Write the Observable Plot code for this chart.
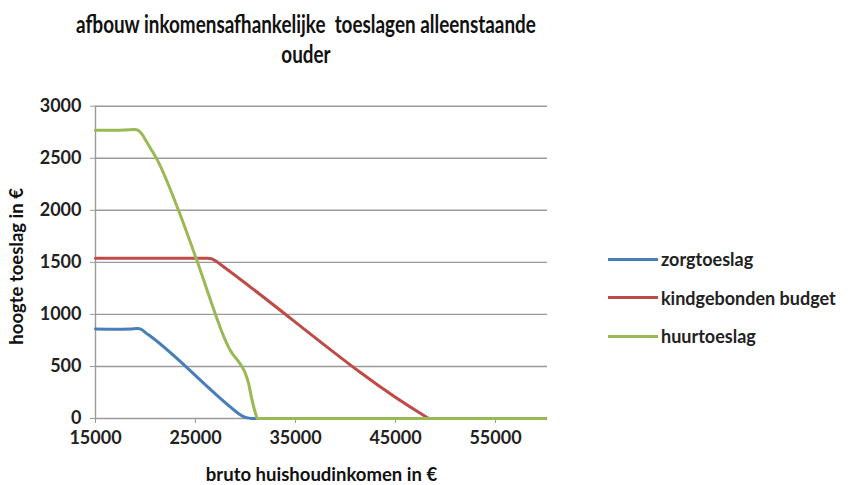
<!DOCTYPE html>
<html>
<head>
<meta charset="utf-8">
<script src="https://cdn.jsdelivr.net/npm/d3@7"></script>
<script src="https://cdn.jsdelivr.net/npm/@observablehq/plot@0.6"></script>
<style>
  html, body { margin: 0; padding: 0; background: #fff; }
  #wrap { position: relative; width: 855px; height: 485px; font-family: Lato, "Open Sans", sans-serif; }
  #title { position: absolute; left: 0; top: 8px; width: 612px; text-align: center; font-weight: bold; font-size: 25px; line-height: 30px; color: #111; white-space: pre; transform: scaleX(0.755); transform-origin: 306px 0; }
  #chart { position: absolute; left: 0; top: 85px; }
  #legend { position: absolute; left: 608px; top: 240px; font-weight: bold; font-size: 18px; color: #222; }
  .item { display: flex; align-items: center; height: 38.5px; }
  .sw { width: 50px; height: 3px; margin-right: 3px; }
</style>
</head>
<body>
<div id="wrap">
  <div id="title">afbouw inkomensafhankelijke  toeslagen alleenstaande
ouder</div>
  <div id="chart"></div>
  <div id="legend"></div>
</div>
<script>
const seriesNames = ["zorgtoeslag", "kindgebonden budget", "huurtoeslag"];
const seriesColors = ["#4a7ebb", "#be4b48", "#98b954"];

const zorgIncome = [15000, 17000, 18500, 19200, 19600, 20000, 20500, 29000, 29400, 29800, 30200, 30600, 31000, 60000];
const zorgValues = [860, 858, 860, 865, 855, 825, 790, 70, 40, 18, 6, 1, 0, 0];

const kindIncome = [15000, 20000, 26200, 26600, 27000, 27500, 48000, 48300, 48700, 60000];
const kindValues = [1540, 1540, 1540, 1535, 1515, 1480, 20, 3, 0, 0];

const huurIncome = [15000, 17000, 18900, 19300, 19700, 20100, 20600, 21200, 23300, 25200, 27000, 27600, 28500, 29500, 30000, 30300, 30600, 31000, 31200, 35000, 60000];
const huurValues = [2770, 2770, 2775, 2765, 2725, 2660, 2580, 2480, 2000, 1500, 1000, 840, 650, 520, 430, 340, 200, 50, 0, 0, 0];

const xTicks = [15000, 25000, 35000, 45000, 55000];
const yTicks = [0, 500, 1000, 1500, 2000, 2500, 3000];

const rows = [];
[[zorgIncome, zorgValues], [kindIncome, kindValues], [huurIncome, huurValues]].forEach(([xs, ys], i) => {
  xs.forEach((x, j) => rows.push({ series: seriesNames[i], income: x, value: ys[j] }));
});

const font = "Lato, 'Open Sans', sans-serif";
const chart = Plot.plot({
  width: 855,
  height: 400,
  marginLeft: 95,
  marginRight: 308,
  marginTop: 20.7,
  marginBottom: 67,
  style: { fontFamily: font, fontSize: "18px", color: "#222", background: "white" },
  x: { domain: [15000, 60200], label: null },
  y: { domain: [0, 3000], label: null },
  color: { domain: seriesNames, range: seriesColors },
  marks: [
    Plot.gridY(yTicks, { stroke: "#9a9a9a", strokeOpacity: 1, strokeWidth: 1.4 }),
    Plot.ruleX([15000], { stroke: "#9a9a9a", strokeWidth: 1.4 }),
    Plot.axisY(yTicks, { tickSize: 5, tickPadding: 9, stroke: "#9a9a9a", fontWeight: "bold", fontSize: 18, fill: "#222", tickFormat: d => String(d) }),
    Plot.axisX(xTicks, { tickSize: 5, tickPadding: 8, stroke: "#9a9a9a", fontWeight: "bold", fontSize: 18, fill: "#222", tickFormat: d => String(d) }),
    Plot.line(rows, { x: "income", y: "value", z: "series", stroke: "series", strokeWidth: 3, curve: "monotone-x" }),
    Plot.text(["bruto huishoudinkomen in €"], { frameAnchor: "bottom", lineAnchor: "middle", dy: 57, fontWeight: "bold", fontSize: 18.5, fill: "#111" }),
    Plot.text(["hoogte toeslag in €"], { frameAnchor: "left", rotate: -90, dx: -78, dy: 4, textAnchor: "middle", fontWeight: "bold", fontSize: 18.5, fill: "#111" })
  ]
});
document.getElementById("chart").appendChild(chart);

const legend = document.getElementById("legend");
seriesNames.forEach((name, i) => {
  const item = document.createElement("div");
  item.className = "item";
  const sw = document.createElement("div");
  sw.className = "sw";
  sw.style.background = seriesColors[i];
  const label = document.createElement("span");
  label.textContent = name;
  item.appendChild(sw);
  item.appendChild(label);
  legend.appendChild(item);
});
</script>
</body>
</html>
